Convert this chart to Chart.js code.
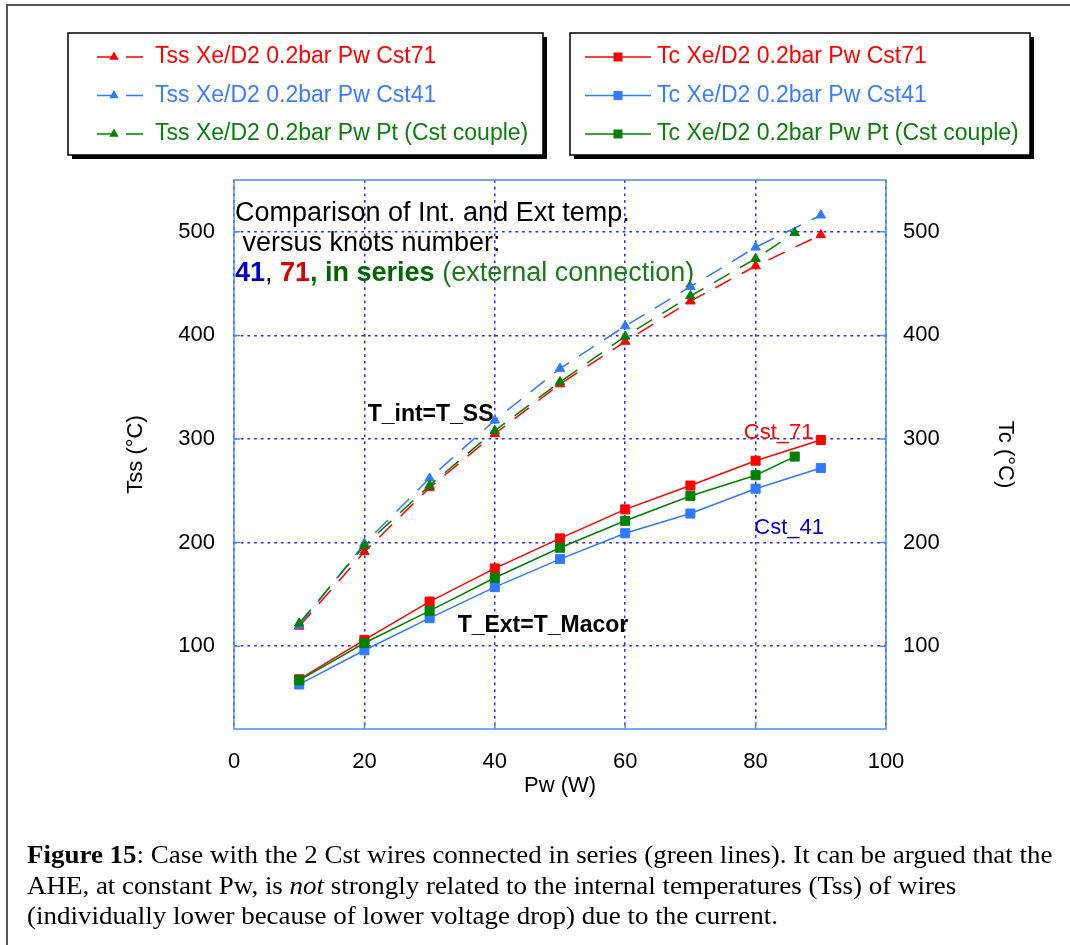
<!DOCTYPE html>
<html>
<head>
<meta charset="utf-8">
<style>
  html, body { margin: 0; padding: 0; background: #fff; }
  #wrap { position: relative; width: 1070px; height: 945px; }
</style>
<script src="https://cdn.jsdelivr.net/npm/chart.js@4.4.1/dist/chart.umd.min.js"></script>
</head>
<body>
<div id="wrap"><canvas id="chart" width="1070" height="945"></canvas></div>
<script>
'use strict';

// Pw (W) of the measurements
const pw = [10, 20, 30, 40, 50, 60, 70, 80, 90];
const pwCouple = [10, 20, 30, 40, 50, 60, 70, 80, 86];

// internal (stainless steel) temperatures, left axis
const tssCst71 = [119, 191, 253, 305, 353, 394, 433, 467, 497];
const tssCst41 = [120, 199, 262, 318, 368, 409, 447, 485, 516];
const tssCouple = [122, 197, 255, 308, 355, 399, 438, 474, 499];

// external (macor) temperatures, right axis
const tcCst71 = [68, 106, 143, 175, 204, 232, 255, 279, 299];
const tcCst41 = [63, 96, 127, 157, 184, 209, 228, 252, 272];
const tcCouple = [67, 103, 134, 166, 195, 221, 245, 265, 283];

const xTicks = [0, 20, 40, 60, 80, 100];
const yTicks = [100, 200, 300, 400, 500];

const RED = '#ff0000';
const BLUE = '#3179ff';
const GREEN = '#008000';
const SANS = '"Liberation Sans", Arial, sans-serif';
const SERIF = '"Liberation Serif", "Times New Roman", serif';

const pairs = (xs, ys) => xs.map((x, i) => ({ x, y: ys[i] }));

const tssSet = (label, xs, ys, color, order) => ({
  label,
  data: pairs(xs, ys),
  yAxisID: 'y',
  borderColor: color,
  backgroundColor: color,
  borderWidth: 1.5,
  borderDash: [18, 12],
  pointStyle: 'triangle',
  pointRadius: 5.5,
  pointBorderWidth: 1,
  tension: 0,
  order,
});

const tcSet = (label, xs, ys, color, order) => ({
  label,
  data: pairs(xs, ys),
  yAxisID: 'y2',
  borderColor: color,
  backgroundColor: color,
  borderWidth: 1.5,
  pointStyle: 'rect',
  pointRadius: 6.4,
  pointBorderWidth: 1,
  tension: 0,
  order,
});

const datasets = [
  tssSet('Tss Xe/D2 0.2bar Pw Cst71', pw, tssCst71, RED, 2),
  tssSet('Tss Xe/D2 0.2bar Pw Cst41', pw, tssCst41, BLUE, 1),
  tssSet('Tss Xe/D2 0.2bar Pw Pt (Cst couple)', pwCouple, tssCouple, GREEN, 0),
  tcSet('Tc Xe/D2 0.2bar Pw Cst71', pw, tcCst71, RED, 2),
  tcSet('Tc Xe/D2 0.2bar Pw Cst41', pw, tcCst41, BLUE, 1),
  tcSet('Tc Xe/D2 0.2bar Pw Pt (Cst couple)', pwCouple, tcCouple, GREEN, 0),
];

const legendColors = ['#ff0000', '#3a7dff', '#0a7d0a'];

// draws a row of differently styled text pieces starting at x
function drawRuns(ctx, x, y, runs) {
  ctx.textAlign = 'left';
  for (const run of runs) {
    ctx.font = run.font;
    ctx.fillStyle = run.color;
    ctx.fillText(run.text, x, y);
    x += ctx.measureText(run.text).width;
  }
}

function marker(ctx, style, x, y, color) {
  ctx.save();
  ctx.fillStyle = color;
  ctx.setLineDash([]);
  ctx.beginPath();
  if (style === 'triangle') {
    const r = 5.5;
    ctx.moveTo(x, y - r);
    ctx.lineTo(x + r * 0.866, y + r * 0.5);
    ctx.lineTo(x - r * 0.866, y + r * 0.5);
    ctx.closePath();
  } else {
    ctx.rect(x - 4.5, y - 4.5, 9, 9);
  }
  ctx.fill();
  ctx.restore();
}

function legendBox(ctx, x, y, w, h) {
  ctx.fillStyle = '#000';
  ctx.fillRect(x + 4, y + 4, w, h);
  ctx.fillStyle = '#fff';
  ctx.fillRect(x, y, w, h);
  ctx.strokeStyle = '#000';
  ctx.lineWidth = 1.5;
  ctx.setLineDash([]);
  ctx.strokeRect(x, y, w, h);
}

const decorations = {
  id: 'decorations',
  beforeDraw(chart) {
    const { ctx } = chart;
    ctx.save();
    ctx.fillStyle = '#fff';
    ctx.fillRect(0, 0, chart.width, chart.height);
    ctx.restore();
  },
  beforeDatasetsDraw(chart) {
    const { ctx, chartArea: a, scales } = chart;
    ctx.save();
    ctx.strokeStyle = '#4d88ff';
    ctx.lineWidth = 1.5;
    ctx.setLineDash([]);
    ctx.strokeRect(a.left, a.top, a.right - a.left, a.bottom - a.top);
    ctx.beginPath();
    for (const v of xTicks.slice(1, -1)) {
      const px = scales.x.getPixelForValue(v);
      ctx.moveTo(px, a.bottom);
      ctx.lineTo(px, a.bottom - 7);
    }
    for (const v of yTicks) {
      const py = scales.y.getPixelForValue(v);
      ctx.moveTo(a.left, py);
      ctx.lineTo(a.left + 6, py);
      ctx.moveTo(a.right, py);
      ctx.lineTo(a.right - 6, py);
    }
    ctx.stroke();
    ctx.restore();
  },
  afterDatasetsDraw(chart) {
    const { ctx, scales } = chart;
    const X = v => scales.x.getPixelForValue(v);
    const Y = v => scales.y.getPixelForValue(v);
    ctx.save();
    ctx.textBaseline = 'middle';

    const big = `27px ${SANS}`;
    const bigBold = `bold 27px ${SANS}`;
    drawRuns(ctx, X(0) + 1, Y(518), [{ text: 'Comparison of Int. and Ext temp.', font: big, color: '#000' }]);
    drawRuns(ctx, X(0) + 1, Y(489), [{ text: ' versus knots number:', font: big, color: '#000' }]);
    drawRuns(ctx, X(0) + 1, Y(460), [
      { text: '41', font: bigBold, color: '#0000cc' },
      { text: ', ', font: big, color: '#000' },
      { text: '71', font: bigBold, color: '#d00000' },
      { text: ', in series', font: bigBold, color: '#006400' },
      { text: ' (external connection)', font: big, color: '#1a7a1a' },
    ]);

    const lbl = `bold 23px ${SANS}`;
    drawRuns(ctx, X(20.5), Y(323), [{ text: 'T_int=T_SS', font: lbl, color: '#000' }]);
    drawRuns(ctx, X(34.3), Y(120), [{ text: 'T_Ext=T_Macor', font: lbl, color: '#000' }]);
    drawRuns(ctx, X(78.2), Y(306), [{ text: 'Cst_71', font: `22px ${SANS}`, color: '#ff0000' }]);
    drawRuns(ctx, X(79.8), Y(214), [{ text: 'Cst_41', font: `22px ${SANS}`, color: '#0000cc' }]);
    ctx.restore();
  },
  afterDraw(chart) {
    const { ctx } = chart;
    const sets = chart.data.datasets;
    ctx.save();

    // outer frame of the figure
    ctx.strokeStyle = '#555';
    ctx.lineWidth = 2;
    ctx.strokeRect(7, 5, 1200, 1100);

    // legends
    legendBox(ctx, 68, 33, 475, 122);
    legendBox(ctx, 570, 33, 460, 122);
    const rows = [57, 95.5, 134];
    ctx.textBaseline = 'middle';
    ctx.font = `23px ${SANS}`;
    for (let i = 0; i < 3; i++) {
      const tss = sets[i];
      const tc = sets[i + 3];
      const y = rows[i];
      ctx.strokeStyle = tss.borderColor;
      ctx.lineWidth = 1.5;
      ctx.setLineDash([17, 12]);
      ctx.beginPath();
      ctx.moveTo(97, y);
      ctx.lineTo(145, y);
      ctx.stroke();
      marker(ctx, 'triangle', 114, y, tss.borderColor);
      ctx.fillStyle = legendColors[i];
      ctx.fillText(tss.label, 155, y);

      ctx.setLineDash([]);
      ctx.strokeStyle = tc.borderColor;
      ctx.beginPath();
      ctx.moveTo(585, y);
      ctx.lineTo(651, y);
      ctx.stroke();
      marker(ctx, 'rect', 618, y, tc.borderColor);
      ctx.fillStyle = legendColors[i];
      ctx.fillText(tc.label, 657, y);
    }

    // caption
    ctx.textBaseline = 'alphabetic';
    ctx.translate(27, 0);
    ctx.scale(1.037, 1);
    const reg = `26px ${SERIF}`;
    drawRuns(ctx, 0, 863, [
      { text: 'Figure 15', font: `bold 26px ${SERIF}`, color: '#000' },
      { text: ': Case with the 2 Cst wires connected in series (green lines). It can be argued that the', font: reg, color: '#000' },
    ]);
    drawRuns(ctx, 0, 894, [
      { text: 'AHE, at constant Pw, is ', font: reg, color: '#000' },
      { text: 'not', font: `italic 26px ${SERIF}`, color: '#000' },
      { text: ' strongly related to the internal temperatures (Tss) of wires', font: reg, color: '#000' },
    ]);
    drawRuns(ctx, 0, 924, [
      { text: '(individually lower because of lower voltage drop) due to the current.', font: reg, color: '#000' },
    ]);
    ctx.restore();
  },
};

const tickFont = { family: SANS, size: 22 };
const gridColor = '#2b2bdb';

const yScale = (position, padding, titleText, titlePad, showGrid) => ({
  type: 'linear',
  position,
  min: 20,
  max: 550,
  afterBuildTicks: s => { s.ticks = yTicks.map(v => ({ value: v })); },
  afterFit: s => { s.width = position === 'left' ? 234 : 184; },
  ticks: { font: tickFont, color: '#000', padding },
  grid: { display: showGrid, color: gridColor, lineWidth: 1.5, drawTicks: false },
  border: { display: false, dash: [2.7, 4] },
  title: {
    display: true,
    text: titleText,
    font: tickFont,
    color: '#000',
    padding: { top: titlePad, bottom: 0 },
  },
});

new Chart(document.getElementById('chart'), {
  type: 'line',
  data: { datasets },
  options: {
    responsive: false,
    animation: false,
    layout: { padding: { top: 180, left: 0, right: 0, bottom: 0 } },
    plugins: {
      legend: { display: false },
      tooltip: { enabled: false },
    },
    scales: {
      x: {
        type: 'linear',
        min: 0,
        max: 100,
        afterBuildTicks: s => { s.ticks = xTicks.map(v => ({ value: v })); },
        afterFit: s => { s.height = 216; },
        ticks: { font: tickFont, color: '#000', padding: 20 },
        grid: { color: gridColor, lineWidth: 1.5, drawTicks: false },
        border: { display: false, dash: [2.7, 4] },
        title: {
          display: true,
          text: 'Pw (W)',
          font: tickFont,
          color: '#000',
          padding: { top: 0, bottom: 146 },
        },
      },
      y: yScale('left', 19, 'Tss (°C)', 123, true),
      y2: yScale('right', 17, 'Tc (°C)', 52, false),
    },
  },
  plugins: [decorations],
});
</script>
</body>
</html>
